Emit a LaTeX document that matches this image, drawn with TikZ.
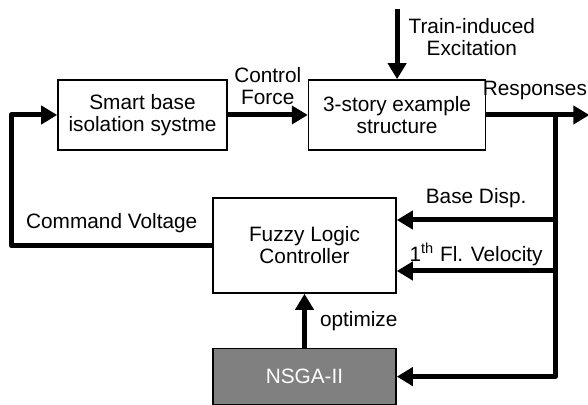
\documentclass[tikz,border=0pt]{standalone}
\usepackage{fontspec}
\setmainfont{Liberation Sans}
\usetikzlibrary{arrows.meta, positioning}
\tikzset{flow/.style={line width=2.5pt, line join=round, -{Triangle[length=8pt,width=9pt]}}}
\tikzset{lbl/.style={font=\fontsize{10.4}{11}\selectfont, align=center, inner sep=1pt}}

\begin{document}
\begin{tikzpicture}[
    block/.style={rectangle, draw, line width=0.8pt, fill=white, align=center, font=\fontsize{10.4}{11}\selectfont, inner sep=0pt},
    optbox/.style={block, fill=black!50, text=white},
    node distance=27pt and 40pt
  ]
    \useasboundingbox (0,0) rectangle (294pt,-202.5pt);

    % plant
    \node[block, minimum width=84.5pt, minimum height=35pt] (smart) at (71.25pt,-57.5pt) {Smart base\\isolation systme};
    \node[block, minimum width=88.5pt, minimum height=35pt, right=of smart] (struct) {3-story example\\structure};

    % controller
    \node[block, minimum width=91.5pt, minimum height=47.5pt] (fuzzy) at (152.25pt,-122.75pt) {Fuzzy Logic\\Controller};
    \node[optbox, minimum width=91.5pt, minimum height=28pt, below=of fuzzy] (nsga) {NSGA-II};

    % free ends
    \coordinate[above=35pt of struct.north] (train);
    \coordinate[right=51.5pt of struct.east] (resp);
    \coordinate[right=34.5pt of struct.east] (tap);
    \coordinate[left=23pt of smart.west] (cmd);
    \coordinate (bd) at ([yshift=12.75pt]fuzzy.east);
    \coordinate (vel) at ([yshift=-12.75pt]fuzzy.east);

    \draw[flow] (train) -- node[lbl, right, pos=0.4, xshift=3.5pt] {Train-induced\\Excitation} (struct.north);
    \draw[flow] (smart) -- node[lbl, above, yshift=3pt] {Control\\Force} (struct);
    \draw[flow] (struct.east) -- node[lbl, above, yshift=5.5pt, xshift=-1.5pt] {Responses} (resp);

    % feedback
    \draw[flow] (tap) |- (nsga.east);
    \draw[flow] (tap |- bd) -- node[lbl, above, yshift=4pt] {Base Disp.} (bd);
    \draw[flow] (tap |- vel) -- node[lbl, above, yshift=0.5pt] {1\textsuperscript{th} Fl. Velocity} (vel);
    \draw[flow] (fuzzy.west) -| node[lbl, above, pos=0.25, yshift=4pt] {Command Voltage} (cmd) -- (smart.west);
    \draw[flow] (nsga) -- node[lbl, right, xshift=5.5pt] {optimize} (fuzzy);
\end{tikzpicture}
\end{document}
